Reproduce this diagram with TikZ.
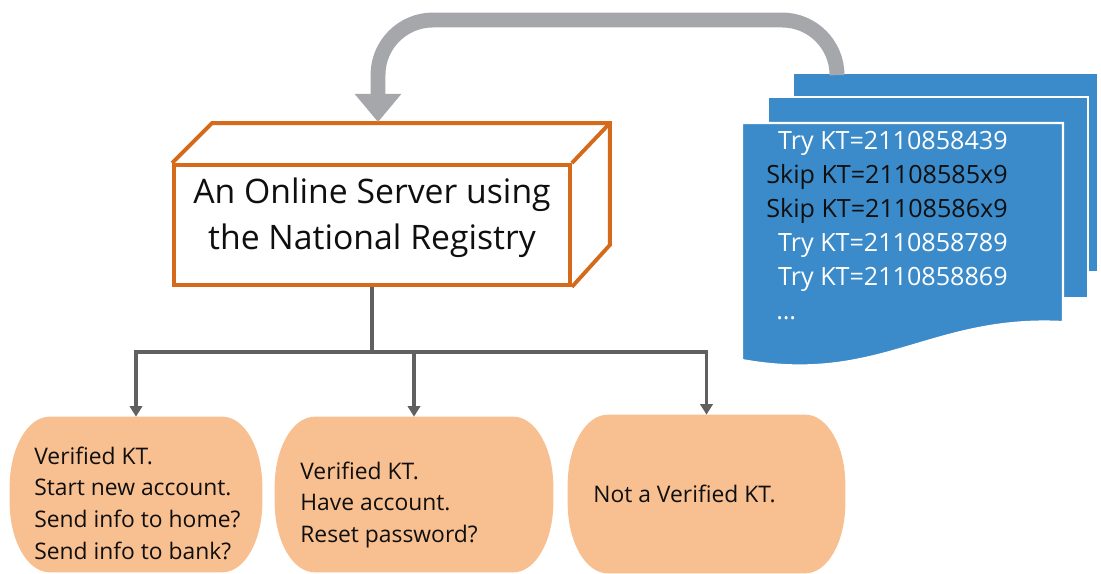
\documentclass[tikz,border=0pt]{standalone}
\usepackage{fontspec}
\setmainfont{Open Sans}
\usetikzlibrary{arrows.meta,calc,backgrounds}

\definecolor{srvorange}{RGB}{212,106,26}
\definecolor{arrowgray}{RGB}{166,167,171}
\definecolor{linegray}{RGB}{96,96,96}
\definecolor{pillfill}{RGB}{248,192,144}
\definecolor{sheetblue}{RGB}{59,139,202}
\definecolor{inkblack}{RGB}{15,15,15}

% filled rounded "pill" drawn behind a named node (elliptical corners)
\newcommand\pillbehind[1]{%
  \fill[pillfill]
    ($(#1.north west)+(40,0)$) -- ($(#1.north east)+(-40,0)$)
    .. controls +(22.1,0) and +(0,-38.7) .. ($(#1.north east)+(0,70)$)
    -- ($(#1.south east)+(0,-70)$)
    .. controls +(0,38.7) and +(22.1,0) .. ($(#1.south east)+(-40,0)$)
    -- ($(#1.south west)+(40,0)$)
    .. controls +(-22.1,0) and +(0,38.7) .. ($(#1.south west)+(0,-70)$)
    -- ($(#1.north west)+(0,70)$)
    .. controls +(0,-38.7) and +(-22.1,0) .. ($(#1.north west)+(40,0)$)
    -- cycle;}

\tikzset{
  cube/.style={draw=srvorange, line width=2.2pt, line join=miter, fill=white},
  conn/.style={draw=linegray, line width=1.8pt,
    -{Triangle[width=7pt,length=6pt]}},
  bigarrow/.style={draw=arrowgray, line width=8.5pt, rounded corners=1.1cm,
    -{Triangle[width=25.5pt,length=16pt]}},
  sheet/.style={fill=sheetblue, draw=white, line width=1.2pt, inner sep=0pt},
  pill/.style={inner sep=0pt, minimum height=3.1cm},
  pilltext/.style={inner sep=0pt, anchor=base west, text=inkblack,
    font=\fontsize{13}{18.1}\selectfont},
}

\begin{document}
\begin{tikzpicture}[x=0.02cm, y=-0.02cm]
\useasboundingbox (0,0) rectangle (1101,574);

% stacked document sheets
\node[sheet, minimum width=6.1cm, minimum height=3.98cm] (sheetback) at (945.5,172.5) {};
\node[sheet, minimum width=6.4cm, minimum height=4.02cm] (sheetmid) at (928,197.5) {};
\filldraw[sheetblue, draw=white, line width=1.2pt]
  (742,123) -- (1063,123) -- (1063,322)
  .. controls (930,315) and (880,385) .. (742,360) -- cycle;
\node[inner sep=0pt, anchor=base east, font=\fontsize{14.3}{19.3}\selectfont]
  (doclist) at (1008,150) {%
  \begin{tabular}[t]{@{}r@{}}
  \textcolor{white}{Try KT=2110858439}\\
  \textcolor{inkblack}{Skip KT=21108585x9}\\
  \textcolor{inkblack}{Skip KT=21108586x9}\\
  \textcolor{white}{Try KT=2110858789}\\
  \textcolor{white}{Try KT=2110858869}\\
  \multicolumn{1}{@{}l@{}}{\hspace{0.2cm}\textcolor{white}{\dots}}
  \end{tabular}};

% server drawn as a box in perspective
\node[cube, minimum width=7.92cm, minimum height=2.4cm, inner sep=0pt,
      align=center, font=\fontsize{19.2}{26.6}\selectfont, text=inkblack]
  (srv) at (372,225) {An Online Server using\\the National Registry\\[-13.7pt]};
\draw[cube, fill=none] (srv.north west) -- ++(40,-40) -| ($(srv.south east)+(38,-42)$)
  -- (srv.south east);
\draw[cube, fill=none] (srv.north east) -- ++(38,-40);

% feedback arrow from the sheets back into the server
\coordinate (docsrc) at ($(sheetback.north west)+(45,-2)$);
\coordinate (intake) at ($(srv.north)+(6,-41)$);
\draw[bigarrow] (docsrc) -- ($(docsrc|-0,20)$) -- ($(intake|-0,20)$) -- (intake);

% outcome pills
\node[pill, minimum width=5.04cm] (o1) at (136,494.5) {};
\node[pill, minimum width=5.56cm] (o2) at (414,494.5) {};
\node[pill, minimum width=5.54cm, minimum height=3.16cm] (o3) at (706.5,494) {};
\begin{scope}[on background layer]
  \pillbehind{o1}
  \pillbehind{o2}
  \pillbehind{o3}
\end{scope}

\node[pilltext] (t1) at (34,464) {\begin{tabular}[t]{@{}l@{}}
  Verified KT.\\ Start new account.\\ Send info to home?\\ Send info to bank?
  \end{tabular}};
\node[pilltext] (t2) at (300,479) {\begin{tabular}[t]{@{}l@{}}
  Verified KT.\\ Have account.\\ Reset password?
  \end{tabular}};
\node[pilltext] (t3) at (593,502) {Not a Verified KT.};

% branching connectors
\draw[conn] (srv.south) -- ++(0,65) -| (o1.north);
\draw[conn] (srv.south) -- ++(0,65) -| (o2.north);
\draw[conn] (srv.south) -- ++(0,65) -| (o3.north);
\end{tikzpicture}
\end{document}
